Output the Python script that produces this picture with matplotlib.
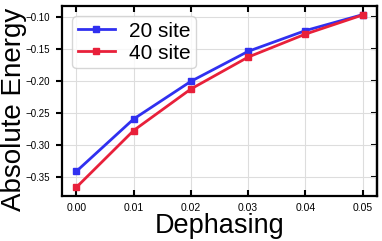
import numpy as np
import matplotlib.pyplot as plt

plt.rcParams['font.family'] = ['Liberation Sans', 'DejaVu Sans']

dephasing = [0.00, 0.01, 0.02, 0.03, 0.04, 0.05]
e20 = [-0.342, -0.260, -0.201, -0.154, -0.1215, -0.0965]   # 20 site
e40 = [-0.367, -0.278, -0.213, -0.163, -0.127, -0.097]     # 40 site
xticks = [0.00, 0.01, 0.02, 0.03, 0.04, 0.05]
yticks = [-0.35, -0.30, -0.25, -0.20, -0.15, -0.10]

fig = plt.figure(figsize=(3.82, 2.41), dpi=100)
ax = fig.add_axes([62/382, 45/241, 315/382, 190/241])

ax.plot(dephasing, e20, color='#3030f0', marker='s', ms=5, lw=2, label='20 site')
ax.plot(dephasing, e40, color='#e8203a', marker='s', ms=5, lw=2, label='40 site')

ax.set_xticks(xticks)
ax.set_xticklabels(['%.2f' % v for v in xticks])
ax.set_yticks(yticks)
ax.set_yticklabels(['\u2212%.2f' % abs(v) for v in yticks])
ax.grid(color='#dddddd', lw=0.8)
ax.set_axisbelow(True)

for s in ax.spines.values():
    s.set_linewidth(1.6)
ax.tick_params(axis='y', which='major', direction='out', length=4, width=1.5, labelsize=7,
               left=True, right=False, pad=5)
ax.tick_params(axis='x', which='major', direction='in', length=4, width=1.5, labelsize=7.5, top=True, pad=5)
sec = ax.secondary_yaxis('right')
sec.set_yticks(yticks)
sec.tick_params(direction='in', length=4, width=1.5, labelright=False)
sec.spines['right'].set_linewidth(1.6)

ax.set_xlabel('Dephasing', fontsize=19.5, labelpad=0)
ax.set_ylabel('Absolute Energy', fontsize=20)
ax.yaxis.set_label_coords(-0.112, 0.455)

ax.legend(loc='upper left', fontsize=15, handlelength=1.8, handletextpad=0.65, borderpad=0.25,
          labelspacing=0.15, borderaxespad=0.5, framealpha=0.8, edgecolor='#cccccc')

fig.savefig('out.png', dpi=100)
